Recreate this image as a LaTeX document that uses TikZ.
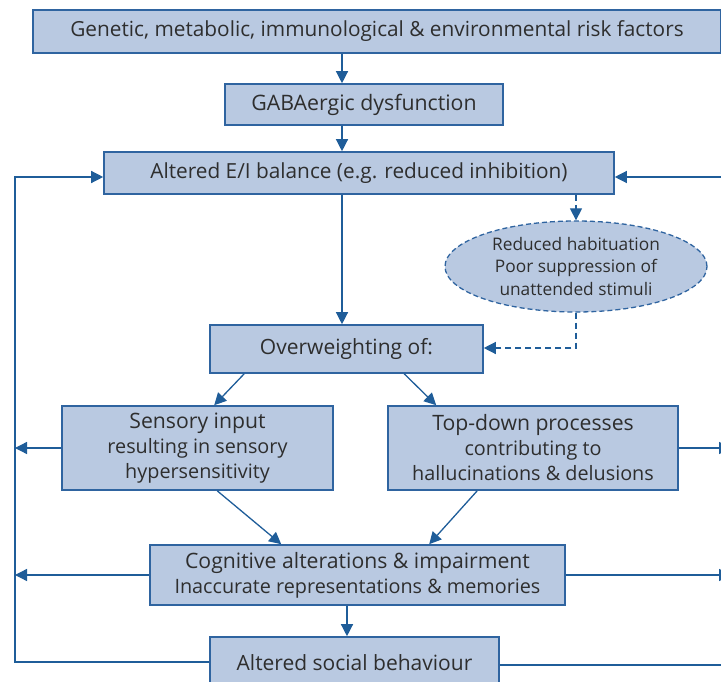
\documentclass[tikz,border=0pt]{standalone}
\usepackage{fontspec}
\setmainfont{Open Sans}
\usetikzlibrary{arrows.meta,shapes.geometric,calc}
\definecolor{boxfill}{HTML}{B9C9E1}
\definecolor{boxdraw}{HTML}{2F64A0}
\definecolor{arr}{HTML}{1F5D99}
\definecolor{txt}{HTML}{2E2E2E}
\newcommand{\hd}{\fontsize{21.2}{25}\selectfont}
\tikzset{
  bx/.style={draw=boxdraw,fill=boxfill,line width=1.6pt,text=txt,align=center,inner sep=0pt,font=\fontsize{19.8}{25}\selectfont},
  ln/.style={draw=arr,line width=1.3pt},
  ar/.style={ln,-{Triangle[length=12pt,width=12pt]}},
  dar/.style={ar,dashed,dash pattern=on 6pt off 4pt},
  big/.style={font=\fontsize{21}{25}\selectfont},
  one/.style={font=\fontsize{20.8}{25}\selectfont}
}
\begin{document}
\begin{tikzpicture}[x=1pt,y=-1pt]
\useasboundingbox (0,0) rectangle (721,682);
\clip (0,0) rectangle (721,682);
\node[bx,one,minimum width=688pt,minimum height=43pt] (risk) at (377,31.5) {Genetic, metabolic, immunological \& environmental risk factors};
\node[bx,font=\fontsize{21.3}{25}\selectfont,minimum width=278pt,minimum height=41pt] (gaba) at (364,104.5) {GABAergic dysfunction};
\node[bx,one,minimum width=510pt,minimum height=42pt] (ei) at (359,173) {Altered E/I balance (e.g. reduced inhibition)};
\node[draw=boxdraw,fill=boxfill,line width=1.3pt,dash pattern=on 5pt off 3pt,ellipse,minimum width=262pt,minimum height=91pt,inner sep=0pt,align=center,text=txt,font=\fontsize{17.3}{22.5}\selectfont] (ell) at (576,266.5) {Reduced habituation\\Poor suppression of\\unattended stimuli};
\node[bx,big,minimum width=273pt,minimum height=48pt] (ow) at (346.5,349) {Overweighting of:};
\node[bx,minimum width=271pt,minimum height=84pt] (sens) at (197.5,448) {{\hd Sensory input}\\resulting in sensory\\hypersensitivity};
\node[bx,minimum width=290pt,minimum height=84pt] (td) at (533,448) {{\hd Top-down processes}\\contributing to\\hallucinations \& delusions};
\node[bx,minimum width=415pt,minimum height=60pt] (cog) at (357.5,575) {{\hd Cognitive alterations \& impairment}\\Inaccurate representations \& memories};
\node[bx,big,minimum width=289pt,minimum height=56pt,text depth=0pt] (soc) at (354.5,665) {\raisebox{4pt}{Altered social behaviour}};
% coordinates
\coordinate (m1) at (342,0);
\coordinate (m2) at (347,0);
\coordinate (me) at (576,0);
\coordinate (lt) at (15,177);
\coordinate (rt) at (735,177);
\coordinate (lx) at (15,0);
\coordinate (rx) at (731,0);
\coordinate (dj) at (576,348);
% main vertical arrows
\draw[ar] (risk.south -| m1) -- (gaba.north -| m1);
\draw[ar] (gaba.south -| m1) -- (ei.north -| m1);
\draw[ar] (ei.south -| m1) -- (ow.north -| m1);
\draw[ar] (cog.south -| m2) -- (soc.north -| m2);
% dashed branch
\draw[dar] (ei.south -| me) -- (ell.north);
\draw[dar] (ell.south) -- (dj) -- (ow.east |- dj);
% diagonals
\draw[ar] ($(ow.south west)+(35,0)$) -- ($(sens.north west)+(153,0)$);
\draw[ar] ($(ow.south west)+(195,0)$) -- ($(td.north west)+(49,0)$);
\draw[ar] ($(sens.south west)+(156,0)$) -- ($(cog.north west)+(132,0)$);
\draw[ar] ($(td.south west)+(90,0)$) -- ($(cog.north west)+(280,0)$);
% left loop
\draw[ar] (soc.west |- 0,662) -- (lx |- 0,662) -- (lt) -- (ei.west |- lt);
\draw[ar] (sens.west) -- (lx |- sens.west);
\draw[ar] (cog.west) -- (lx |- cog.west);
% right loop
\draw[ln] (soc.east |- 0,665) -- (rt |- 0,665);
\draw[ar] (rt) -- (ei.east |- rt);
\draw[ar] (td.east) -- (rx |- td.east);
\draw[ar] (cog.east) -- (rx |- cog.east);
\end{tikzpicture}
\end{document}
